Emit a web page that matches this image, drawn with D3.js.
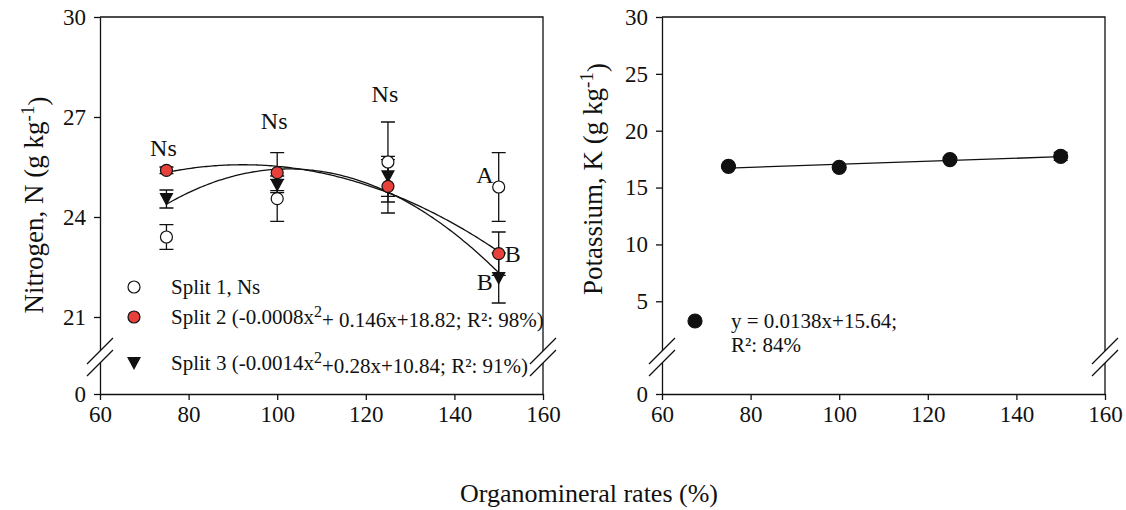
<!DOCTYPE html>
<html>
<head>
<meta charset="utf-8">
<title>Nitrogen and potassium vs organomineral rates</title>
<script src="https://d3js.org/d3.v7.min.js"></script>
<style>
  body { margin: 0; background: #fff; }
  svg text { font-family: "Liberation Serif", "Times New Roman", "DejaVu Serif", serif; fill: #111; }
  .axis path, .axis line { stroke: #111; stroke-width: 1.3; }
</style>
</head>
<body>
<div id="here"></div>
<script>
// data
var rates = [75, 100, 125, 150];

var split1N = [23.40, 24.55, 25.65, 24.90];
var split1Err = [0.37, 0.68, 1.20, 1.03];
var split2N = [25.40, 25.33, 24.92, 22.90];
var split2Err = [0.10, 0.60, 0.80, 0.65];
var split3N = [24.54, 24.96, 25.22, 22.17];
var split3Err = [0.27, 0.17, 0.60, 0.75];

var potassium = [16.87, 16.78, 17.46, 17.75];
var potassiumErr = [0.15, 0.15, 0.20, 0.35];

var xTicks = [60, 80, 100, 120, 140, 160];
var nTicks = [0, 21, 24, 27, 30];
var kTicks = [0, 5, 10, 15, 20, 25, 30];

// significance letters
var nsLabels = ["Ns", "Ns", "Ns"];
var nsLabelN = [26.08, 26.89, 27.70];

var legendN = [
  { sym: "open", pre: "Split 1, Ns", sup: "", post: "" },
  { sym: "red", pre: "Split 2 (-0.0008x", sup: "2", post: "+ 0.146x+18.82; R²: 98%)" },
  { sym: "tri", pre: "Split 3 (-0.0014x", sup: "2", post: "+0.28x+10.84; R²: 91%)" }
];

var W = 1126, H = 510;
var top_ = 17, bottom_ = 394, breakY = 357;
var FONT = "'Liberation Serif', 'Times New Roman', 'DejaVu Serif', serif";

var svg = d3.select("#here").append("svg")
  .attr("width", W)
  .attr("height", H)
  .attr("font-family", FONT);

// least squares polynomial fit
function polyfit(xs, ys, deg) {
  var n = deg + 1, A = [], b = [];
  for (var i = 0; i < n; i++) {
    A.push([]);
    b.push(d3.sum(xs, function(x, k) { return Math.pow(x, i) * ys[k]; }));
    for (var j = 0; j < n; j++) A[i].push(d3.sum(xs, function(x) { return Math.pow(x, i + j); }));
  }
  for (var c = 0; c < n; c++) {
    for (var r = c + 1; r < n; r++) {
      var f = A[r][c] / A[c][c];
      for (var q = c; q < n; q++) A[r][q] -= f * A[c][q];
      b[r] -= f * b[c];
    }
  }
  var coef = new Array(n);
  for (var r2 = n - 1; r2 >= 0; r2--) {
    var s = b[r2];
    for (var q2 = r2 + 1; q2 < n; q2++) s -= A[r2][q2] * coef[q2];
    coef[r2] = s / A[r2][r2];
  }
  return function(x) { return d3.sum(coef, function(cf, p) { return cf * Math.pow(x, p); }); };
}

function panel(x0, x1, breakVal, ticks) {
  var x = d3.scaleLinear().domain([60, 160]).range([x0, x1]);
  var y = d3.scaleLinear().domain([0, breakVal, 30]).range([bottom_, breakY, top_]);
  var g = svg.append("g");

  var ax = g.append("g").attr("class", "axis")
    .attr("transform", "translate(0," + bottom_ + ")")
    .call(d3.axisBottom(x).tickValues(xTicks).tickSizeInner(6).tickSizeOuter(0).tickPadding(6));
  ax.attr("font-family", FONT).attr("font-size", 23);
  ax.selectAll("text").attr("fill", "#111");

  var ay = g.append("g").attr("class", "axis")
    .attr("transform", "translate(" + x0 + ",0)")
    .call(d3.axisLeft(y).tickValues(ticks).tickSizeInner(6).tickSizeOuter(0).tickPadding(8));
  ay.attr("font-family", FONT).attr("font-size", 23);
  ay.selectAll("text").attr("fill", "#111");

  // frame top + right
  g.append("path")
    .attr("d", "M" + x0 + "," + top_ + "H" + x1 + "V" + bottom_)
    .attr("fill", "none").attr("stroke", "#111").attr("stroke-width", 1.3);

  // axis breaks
  [x0, x1].forEach(function(cx) {
    g.append("polygon")
      .attr("points", [[cx - 13, breakY + 7], [cx + 13, breakY - 19], [cx + 13, breakY - 7], [cx - 13, breakY + 19]].join(" "))
      .attr("fill", "#fff");
    [-6, 6].forEach(function(off) {
      g.append("line")
        .attr("x1", cx - 13).attr("y1", breakY + 13 + off)
        .attr("x2", cx + 13).attr("y2", breakY - 13 + off)
        .attr("stroke", "#111").attr("stroke-width", 1.2);
    });
  });

  return { g: g, x: x, y: y };
}

function errorBars(p, vals, errs) {
  rates.forEach(function(r, i) {
    var cx = p.x(r), yt = p.y(vals[i] + errs[i]), yb = p.y(vals[i] - errs[i]);
    p.g.append("path")
      .attr("d", "M" + cx + "," + yt + "V" + yb + "M" + (cx - 7) + "," + yt + "H" + (cx + 7) + "M" + (cx - 7) + "," + yb + "H" + (cx + 7))
      .attr("stroke", "#111").attr("stroke-width", 1.3).attr("fill", "none");
  });
}

function symbol(g, kind, cx, cy) {
  if (kind == "tri") {
    g.append("path")
      .attr("d", "M" + (cx - 7) + "," + (cy - 6) + "H" + (cx + 7) + "L" + cx + "," + (cy + 7) + "Z")
      .attr("fill", "#111");
  } else {
    g.append("circle")
      .attr("cx", cx).attr("cy", cy).attr("r", kind == "black" ? 7 : 6)
      .attr("fill", kind == "red" ? "#e8413c" : kind == "black" ? "#111" : "#fff")
      .attr("stroke", "#111").attr("stroke-width", 1.2);
  }
}

// ---------- left: nitrogen ----------
var pn = panel(100, 543, 19.8, nTicks);

var fitRange = d3.range(75, 150.01, 0.5);
[split2N, split3N].forEach(function(vals) {
  var fit = polyfit(rates, vals, 2);
  pn.g.append("path")
    .datum(fitRange)
    .attr("d", d3.line().x(function(d) { return pn.x(d); }).y(function(d) { return pn.y(fit(d)); }))
    .attr("fill", "none").attr("stroke", "#111").attr("stroke-width", 1.3);
});

errorBars(pn, split1N, split1Err);
errorBars(pn, split3N, split3Err);
errorBars(pn, split2N, split2Err);

rates.forEach(function(r, i) { symbol(pn.g, "open", pn.x(r), pn.y(split1N[i])); });
rates.forEach(function(r, i) { symbol(pn.g, "tri", pn.x(r), pn.y(split3N[i])); });
rates.forEach(function(r, i) { symbol(pn.g, "red", pn.x(r), pn.y(split2N[i])); });

nsLabels.forEach(function(t, i) {
  pn.g.append("text")
    .attr("x", pn.x(rates[i]) - 3).attr("y", pn.y(nsLabelN[i]))
    .attr("dy", "0.35em").attr("text-anchor", "middle").attr("font-size", 24)
    .text(t);
});

pn.g.append("text").attr("x", pn.x(150) - 5).attr("y", pn.y(split1N[3]) - 12)
  .attr("dy", "0.35em").attr("text-anchor", "end").attr("font-size", 24).text("A");
pn.g.append("text").attr("x", pn.x(150) + 6).attr("y", pn.y(split2N[3]))
  .attr("dy", "0.35em").attr("text-anchor", "start").attr("font-size", 24).text("B");
pn.g.append("text").attr("x", pn.x(150) - 6).attr("y", pn.y(split3N[3]) + 4)
  .attr("dy", "0.35em").attr("text-anchor", "end").attr("font-size", 24).text("B");

var legY = [287, 317, 363];
legendN.forEach(function(d, i) {
  symbol(pn.g, d.sym, 134, legY[i]);
  var t = pn.g.append("text").attr("x", 171).attr("y", legY[i]).attr("dy", "0.35em").attr("font-size", 21);
  t.append("tspan").text(d.pre);
  if (d.sup) {
    t.append("tspan").attr("dy", "-0.45em").attr("font-size", 16).text(d.sup);
    t.append("tspan").attr("dy", "0.45em").text(d.post);
  }
});

// ---------- right: potassium ----------
var pk = panel(662, 1105, 0.1, kTicks);

var kFit = polyfit(rates, potassium, 1);
pk.g.append("path")
  .datum([75, 150])
  .attr("d", d3.line().x(function(d) { return pk.x(d); }).y(function(d) { return pk.y(kFit(d)); }))
  .attr("fill", "none").attr("stroke", "#111").attr("stroke-width", 1.3);

errorBars(pk, potassium, potassiumErr);
rates.forEach(function(r, i) { symbol(pk.g, "black", pk.x(r), pk.y(potassium[i])); });

symbol(pk.g, "black", 695, 321);
pk.g.append("text").attr("x", 731).attr("y", 321).attr("dy", "0.35em").attr("font-size", 21).text("y = 0.0138x+15.64;");
pk.g.append("text").attr("x", 731).attr("y", 345).attr("dy", "0.35em").attr("font-size", 21).text("R²: 84%");

// ---------- axis titles ----------
function yTitle(cx, cy, label) {
  var t = svg.append("text")
    .attr("transform", "translate(" + cx + "," + cy + ") rotate(-90)")
    .attr("text-anchor", "middle").attr("dy", "0.35em").attr("font-size", 27);
  t.append("tspan").text(label + " (g kg");
  t.append("tspan").attr("dy", "-0.5em").attr("font-size", 19).text("-1");
  t.append("tspan").attr("dy", "0.5em").text(")");
}
yTitle(34, 205, "Nitrogen, N");
yTitle(593, 179, "Potassium, K");

svg.append("text")
  .attr("x", 589).attr("y", 493).attr("dy", "0.35em")
  .attr("text-anchor", "middle").attr("font-size", 26)
  .text("Organomineral rates (%)");
</script>
</body>
</html>
